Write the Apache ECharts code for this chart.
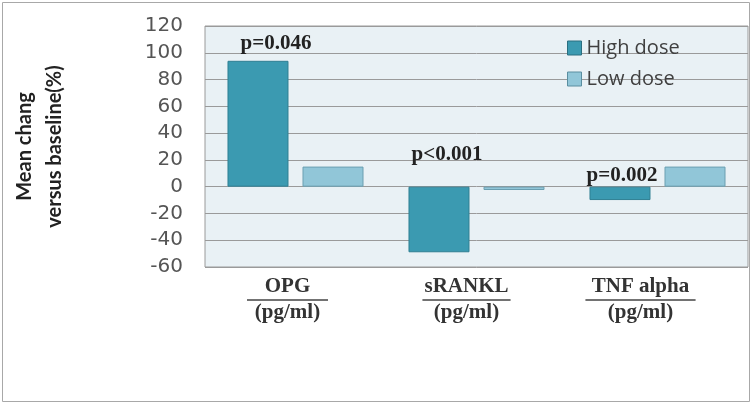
<!DOCTYPE html>
<html><head><meta charset="utf-8">
<script src="https://cdn.jsdelivr.net/npm/echarts@6/dist/echarts.min.js"></script>
<style>html,body{margin:0;padding:0;background:#fff;}#c{width:753px;height:406px;}</style>
</head><body><div id="c"></div>
<script>
var categories = ['OPG', 'sRANKL', 'TNF alpha'];
var highDose = [94, -49, -10];
var lowDose = [15, -2.5, 15];
var yTicks = [-60, -40, -20, 0, 20, 40, 60, 80, 100, 120];
var pLabels = ['p=0.046', 'p<0.001', 'p=0.002'];
var pLabelValues = [107, 24, 8];

var hrW = [81, 88, 110];
var shift = [16, 20, 34];
var rich = {
  t: { fontFamily: 'Liberation Serif', fontWeight: 'bold', fontSize: 21, color: '#333', lineHeight: 22 },
  b: { fontFamily: 'Liberation Serif', fontWeight: 'bold', fontSize: 21, color: '#333', lineHeight: 22 }
};
categories.forEach(function (c, i) {
  rich['hr' + i] = { width: hrW[i], height: 0, lineHeight: 4, borderColor: '#444', borderWidth: 1 };
  rich['sp' + i] = { width: shift[i], fontSize: 4, lineHeight: 4, color: 'rgba(0,0,0,0)' };
});

var chart = echarts.init(document.getElementById('c'));
chart.setOption({
  animation: false,
  backgroundColor: '#fff',
  grid: { left: 205, right: 5, top: 26, bottom: 139, show: true, backgroundColor: '#e9f1f5', borderColor: '#9a9a9a', borderWidth: 1, outerBoundsMode: 'none', containLabel: false },
  legend: {
    orient: 'vertical', left: 562, top: 33, itemWidth: 14, itemHeight: 14, itemGap: 11,
    icon: 'rect',
    textStyle: { fontFamily: 'Open Sans', fontSize: 20, color: '#404040' },
    data: [
      { name: 'High dose', itemStyle: { borderColor: '#2b6f80', borderWidth: 1 } },
      { name: 'Low dose', itemStyle: { borderColor: '#5a8ea0', borderWidth: 1 } }
    ]
  },
  xAxis: {
    type: 'category', data: categories,
    axisLine: { show: false }, axisTick: { show: false },
    axisLabel: {
      margin: 9, interval: 0,
      formatter: function (v) {
        var i = categories.indexOf(v);
        return '{t|' + v + '}{sp' + i + '|.}\n{hr' + i + '|}{sp' + i + '|.}\n{b|(pg/ml)}{sp' + i + '|.}';
      },
      rich: rich
    }
  },
  yAxis: {
    type: 'value', min: -60, max: 120, interval: 20,
    axisLine: { show: false }, axisTick: { show: false },
    axisLabel: { margin: 22, fontFamily: 'DejaVu Sans', fontSize: 20, color: '#555',
      formatter: function (v) { return yTicks.indexOf(v) >= 0 ? String(v) : ''; } },
    splitLine: { lineStyle: { color: '#9a9a9a', width: 1 } },
    name: 'Mean chang\nversus baseline(%)',
    nameLocation: 'middle', nameRotate: 90, nameGap: 135,
    nameTextStyle: { fontFamily: 'Lato', fontWeight: 'bold', fontSize: 20, lineHeight: 30, color: '#222', align: 'center' }
  },
  graphic: [
    { type: 'rect', shape: { x: 2.5, y: 2.5, width: 747, height: 399 }, style: { fill: 'none', stroke: '#a8a8a8', lineWidth: 1 }, z: 100 }
  ],
  series: [
    {
      name: 'High dose', type: 'bar', data: highDose, barWidth: 61, barGap: '23%',
      itemStyle: { color: '#3b9ab1', borderColor: '#2f7f93', borderWidth: 1 },
      markPoint: {
        symbol: 'circle', symbolSize: 0,
        data: categories.map(function (c, i) {
          return { coord: [i, pLabelValues[i]], value: pLabels[i],
            label: { show: true, formatter: pLabels[i], offset: [[18, 8, 2][i], 0],
              fontFamily: 'Liberation Serif', fontWeight: 'bold', fontSize: 21, color: '#222' } };
        })
      }
    },
    {
      name: 'Low dose', type: 'bar', data: lowDose, barWidth: 61,
      itemStyle: { color: '#91c6d8', borderColor: '#6a9fb1', borderWidth: 1 }
    }
  ]
});
</script></body></html>
